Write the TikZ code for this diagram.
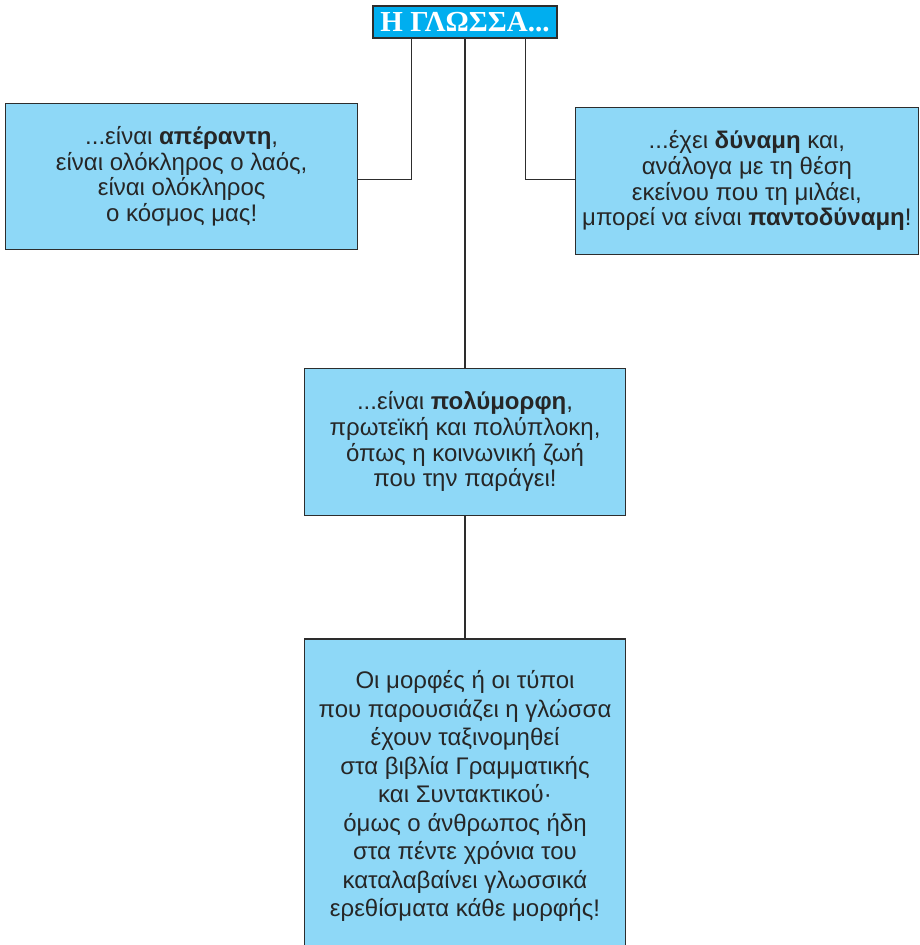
\documentclass[tikz,border=0pt]{standalone}
\usepackage{fontspec}
\setmainfont{Liberation Sans}
\newfontfamily\titlefont{Liberation Serif}
\usetikzlibrary{positioning}
\definecolor{boxblue}{RGB}{142,216,247}
\definecolor{titleblue}{RGB}{0,174,239}
\definecolor{edgegray}{RGB}{45,45,45}

\begin{document}
\begin{tikzpicture}[x=1pt, y=1pt,
    topic/.style={rectangle,
      draw=edgegray,
      line width=1.5pt,
      fill=boxblue,
      inner sep=0pt,
      align=center,
      text=black!85,
      font=\fontsize{24}{25.7}\selectfont},
    heading/.style={rectangle,
      draw=edgegray,
      line width=1.2pt,
      fill=titleblue,
      minimum width=184pt,
      minimum height=32pt,
      inner sep=0pt,
      text=white,
      font=\titlefont\bfseries\fontsize{29}{30}\selectfont},
    link/.style={draw=edgegray, line width=1.2pt}]

  \useasboundingbox (0,0) rectangle (919,-945);
  \clip (0,0) rectangle (919,-945);

  % TITLE

  \node [heading] (title) at (465,-22) {Η ΓΛΩΣΣΑ...};

  % BOXES

  \node [topic,
    minimum width=352pt,
    minimum height=146pt,
    below left=64pt and 14pt of title.south west] (endless) {
    ...είναι \textbf{απέραντη},\\
    είναι ολόκληρος ο λαός,\\
    είναι ολόκληρος\\
    ο κόσμος μας!
  };

  \node [topic,
    minimum width=343pt,
    minimum height=147pt,
    below right=68pt and 17pt of title.south east] (power) {
    ...έχει \textbf{δύναμη} και,\\
    ανάλογα με τη θέση\\
    εκείνου που τη μιλάει,\\
    μπορεί να είναι \textbf{παντοδύναμη}!
  };

  \node [topic,
    minimum width=321pt,
    minimum height=147pt,
    below=329pt of title] (manyforms) {
    ...είναι \textbf{πολύμορφη},\\
    πρωτεϊκή και πολύπλοκη,\\
    όπως η κοινωνική ζωή\\
    που την παράγει!
  };

  \node [topic,
    minimum width=321pt,
    inner ysep=32pt,
    text depth=60pt,
    font=\fontsize{24}{28.5}\selectfont,
    below=122pt of manyforms] (grammar) {
    Οι μορφές ή οι τύποι\\
    που παρουσιάζει η γλώσσα\\
    έχουν ταξινομηθεί\\
    στα βιβλία Γραμματικής\\
    και Συντακτικού·\\
    όμως ο άνθρωπος ήδη\\
    στα πέντε χρόνια του\\
    καταλαβαίνει γλωσσικά\\
    ερεθίσματα κάθε μορφής!
  };

  % CONNECTORS

  \draw [link] ([xshift=39pt]title.south west) |- ([yshift=-3pt]endless.east);
  \draw [link] ([xshift=-32pt]title.south east) |- ([yshift=1.5pt]power.west);
  \draw [link] (title.south) -- (manyforms.north);
  \draw [link] (manyforms.south) -- (grammar.north);

\end{tikzpicture}
\end{document}
